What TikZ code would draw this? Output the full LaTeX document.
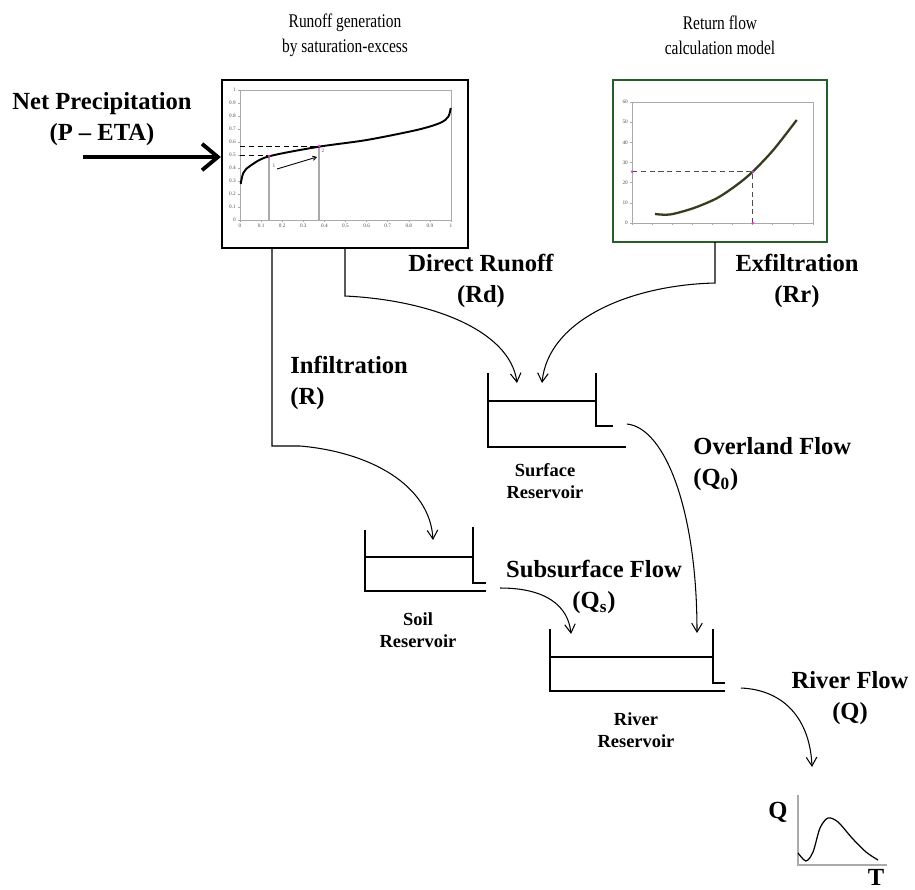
\documentclass[tikz,border=0pt]{standalone}
\usepackage{fontspec}
\setmainfont{Liberation Serif}
\newfontfamily\narrowserif{Liberation Serif}[FakeStretch=0.8]
\usetikzlibrary{arrows.meta}

\definecolor{framegreen}{RGB}{40,95,40}
\definecolor{plotgray}{RGB}{170,170,170}
\definecolor{curveolive}{RGB}{55,60,30}
\definecolor{markmagenta}{RGB}{230,40,230}

\tikzset{
  lbl/.style={font=\fontsize{14}{18}\selectfont\bfseries, align=center, inner sep=0pt},
  reslbl/.style={font=\fontsize{10.5}{12.5}\selectfont\bfseries, align=center, inner sep=0pt},
  ttl/.style={font=\fontsize{11}{14}\narrowserif, align=center, inner sep=0pt},
  tick/.style={font=\fontsize{3}{3}\selectfont, inner sep=0.5pt, text=black!70},
  flow/.style={line width=0.6pt, -{Straight Barb[length=5pt,width=6pt]}},
  wall/.style={line width=1.1pt},
  chartbox/.style={draw, line width=1.3pt, inner sep=0pt},
  gridline/.style={plotgray, line width=0.3pt},
}

\begin{document}
\begin{tikzpicture}[x=0.02cm, y=-0.02cm]
\useasboundingbox (0,0) rectangle (915,889);

% titles
\node[ttl] (sattitle) at (345,35) {Runoff generation\\by saturation-excess};
\node[ttl] (rettitle) at (720,35) {Return flow\\calculation model};

% saturation-excess chart
\node[chartbox, minimum width=4.92cm, minimum height=3.36cm] (satbox) at (345,164) {};
\draw[gridline] (240,90) rectangle (451,220);
\foreach \i/\t in {0/0,1/0.1,2/0.2,3/0.3,4/0.4,5/0.5,6/0.6,7/0.7,8/0.8,9/0.9,10/1} {
  \draw[gridline] ({240+21.1*\i},220) -- ++(0,2);
  \draw[gridline] (240,{220-13*\i}) -- ++(-2,0);
  \node[tick] (satx\i) at ({240+21.1*\i},226) {\t};
  \node[tick, anchor=east] (saty\i) at (237,{220-13*\i}) {\t};
}
\draw[densely dashed, line width=0.4pt] (240,146) -- (319,146);
\draw[densely dashed, line width=0.4pt] (240,155) -- (269,155);
\draw[plotgray, line width=0.6pt] (269,156) -- (269,220);
\draw[plotgray, line width=0.6pt] (319,146) -- (319,220);
\draw[line width=1.1pt] plot[smooth] coordinates {(240.7,184) (243.3,173) (250,166) (268.3,156.5) (318.3,146.8) (366.7,140) (416.7,130) (440,123) (448.3,116.7) (450.7,108)};
\fill[markmagenta] (269,156) circle (1.5) (319,146) circle (1.5);
\draw[line width=0.5pt, -{Straight Barb[length=2pt,width=2.5pt]}] (277,169) -- (317,157);
\node[tick] (satp1) at (274,166) {1};
\node[tick] (satp2) at (323,151) {2};

% return flow chart
\node[chartbox, draw=framegreen, minimum width=4.28cm, minimum height=3.24cm] (retbox) at (720,161) {};
\draw[gridline] (632,102) rectangle (813,223);
\foreach \i/\t in {0/0,1/10,2/20,3/30,4/40,5/50,6/60} {
  \draw[gridline] (632,{223-20.17*\i}) -- ++(-2,0);
  \node[tick, anchor=east] (rety\i) at (629,{223-20.17*\i}) {\t};
}
\foreach \i in {0,...,9} {
  \draw[gridline] ({632+20.1*\i},223) -- ++(0,2);
}
\draw[densely dashed, line width=0.4pt, black!70] (632,171.7) -- (752.7,171.7) -- (752.7,223);
\draw[curveolive, line width=1.3pt] plot[smooth] coordinates {(655,214) (670,214.5) (693,208.3) (716.7,198.3) (736.7,185) (752.7,171.7) (773.3,150) (796.7,120)};
\fill[markmagenta] (632,171.7) circle (1.3) (752.7,223) circle (1.3) (752.7,171.7) circle (1.3);

% net precipitation
\node[lbl] (netlbl) at (102,119) {Net Precipitation\\(P -- ETA)};
\coordinate (netin) at (83,157);
\draw[line width=2.2pt, -{Straight Barb[length=9pt,width=15pt]}] (netin) -- (satbox.west |- netin);

% reservoirs
\draw[wall] (488,373) -- (488,447) -- (626,447);
\draw[wall] (488,401) -- (596,401);
\draw[wall] (596,373) -- (596,426) -- (613,426);
\node[reslbl] (surflbl) at (545,481) {Surface\\Reservoir};

\draw[wall] (365,530) -- (365,591) -- (486,591);
\draw[wall] (365,557) -- (473,557);
\draw[wall] (473,527) -- (473,583) -- (486,583);
\node[reslbl] (soillbl) at (418,630) {Soil\\Reservoir};

\draw[wall] (550,629) -- (550,691) -- (725,691);
\draw[wall] (550,657) -- (713,657);
\draw[wall] (713,629) -- (713,683) -- (725,683);
\node[reslbl] (rivlbl) at (636,730) {River\\Reservoir};

% flows
\coordinate (infA) at (272,248);
\coordinate (infB) at (272,446);
\coordinate (infC) at (300,446);
\coordinate (infE) at (433,540);
\draw[flow] (infA) -- (infB) -- (infC) .. controls (370,452) and (430,485) .. (infE);
\node[lbl, align=left, anchor=west] (inflbl) at (290,383) {Infiltration\\(R)};

\coordinate (dirA) at (345,248);
\coordinate (dirB) at (345,296);
\coordinate (dirE) at (517,383);
\draw[flow] (dirA) -- (dirB) .. controls (430,300) and (510,330) .. (dirE);
\node[lbl] (dirlbl) at (481,281) {Direct Runoff\\(Rd)};

\coordinate (exfA) at (715,242);
\coordinate (exfB) at (715,283);
\coordinate (exfE) at (542,383);
\draw[flow] (exfA) -- (exfB) .. controls (630,285) and (548,320) .. (exfE);
\node[lbl] (exflbl) at (797,281) {Exfiltration\\(Rr)};

\coordinate (ovA) at (627,424);
\coordinate (ovE) at (697,633);
\draw[flow] (ovA) .. controls (665,428) and (697,510) .. (ovE);
\node[lbl, align=left, anchor=west] (ovlbl) at (693,464) {Overland Flow\\(Q\textsubscript{0})};

\coordinate (subA) at (500,588);
\coordinate (subE) at (571,634);
\draw[flow] (subA) .. controls (545,588) and (568,605) .. (subE);
\node[lbl] (sublbl) at (594,587) {Subsurface Flow\\(Q\textsubscript{s})};

\coordinate (rivA) at (741,688);
\coordinate (rivE) at (812,767);
\draw[flow] (rivA) .. controls (785,690) and (810,720) .. (rivE);
\node[lbl] (rivflbl) at (850,698) {River Flow\\(Q)};

% hydrograph
\draw[plotgray, line width=1.2pt] (798,795) -- (798,865) -- (887,865);
\draw[line width=0.7pt] plot[smooth] coordinates {(798,853) (806,861) (813,852) (820,828) (828,818) (838,822) (852,838) (866,852) (878,860)};
\node[lbl] (qlbl) at (778,812) {Q};
\node[lbl] (tlbl) at (876,877) {T};
\end{tikzpicture}
\end{document}
